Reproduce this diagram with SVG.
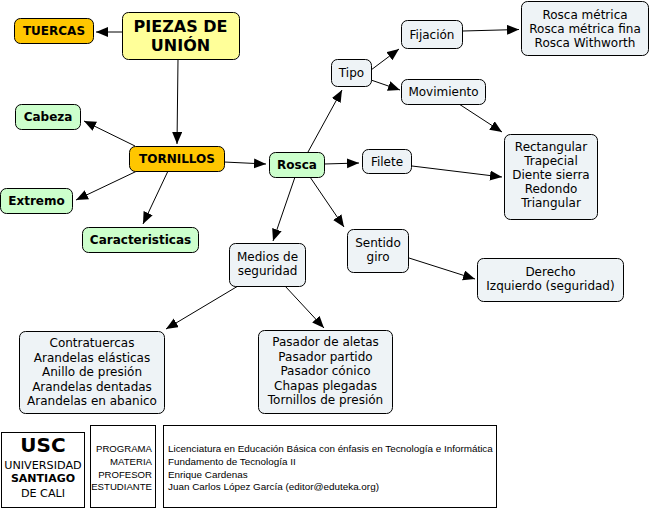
<svg xmlns="http://www.w3.org/2000/svg" width="652" height="509" viewBox="0 0 652 509">
<style>
.n rect{stroke:#000;stroke-width:1}
.o{fill:#FFC600}
.y{fill:#FFFF99}
.g{fill:#CCFFCC}
.p{fill:#EEF3F6}
text{font-family:"DejaVu Sans",Verdana,sans-serif;font-size:12px;fill:#000;text-anchor:middle}
.b{font-weight:bold}
.big{font-size:16px;font-weight:bold}
.c line{stroke:#000;stroke-width:1;marker-end:url(#ah)}
.f rect{fill:#fff;stroke:#000;stroke-width:1}
.ft{font-family:"Liberation Sans",Arial,sans-serif;font-size:9.6px;text-anchor:start}
.fr{font-size:9.9px}
</style>
<defs>
<marker id="ah" markerUnits="userSpaceOnUse" markerWidth="13" markerHeight="11" refX="12" refY="5" orient="auto">
<path d="M0,0 L12,5 L0,10 z" fill="#000"/>
</marker>
</defs>
<rect width="652" height="509" fill="#fff"/>
<g class="c" id="connectors">
<line x1="122" y1="32" x2="96" y2="32"/>
<line x1="178" y1="59" x2="177" y2="144"/>
<line x1="135" y1="146" x2="84" y2="121"/>
<line x1="137" y1="171" x2="76" y2="200"/>
<line x1="168" y1="171" x2="143" y2="224"/>
<line x1="224" y1="162" x2="266" y2="164"/>
<line x1="308" y1="152" x2="342" y2="90"/>
<line x1="371" y1="70" x2="399" y2="49"/>
<line x1="371" y1="80" x2="400" y2="90"/>
<line x1="463" y1="31" x2="519" y2="29.5"/>
<line x1="459" y1="104" x2="502" y2="132"/>
<line x1="324" y1="164" x2="359" y2="163"/>
<line x1="412" y1="166" x2="502" y2="177"/>
<line x1="310" y1="177" x2="344" y2="227"/>
<line x1="295" y1="177" x2="273" y2="241"/>
<line x1="409" y1="258" x2="475" y2="279"/>
<line x1="238" y1="286" x2="166" y2="329"/>
<line x1="285" y1="286" x2="324" y2="328"/>
</g>
<g class="n" id="tuercas"><rect class="o" x="14.5" y="18.5" width="79" height="25" rx="6"/><text class="b" x="54" y="35">TUERCAS</text></g>
<g class="n" id="piezas"><rect class="y" x="122.5" y="12.5" width="117" height="47" rx="6"/><text class="big" x="180.5" y="32">PIEZAS DE</text><text class="big" x="180.5" y="51">UNIÓN</text></g>
<g class="n" id="cabeza"><rect class="g" x="15.5" y="104.5" width="65" height="25" rx="6"/><text class="b" x="48" y="121">Cabeza</text></g>
<g class="n" id="tornillos"><rect class="o" x="129.5" y="146.5" width="95" height="25" rx="6"/><text class="b" x="177" y="163">TORNILLOS</text></g>
<g class="n" id="rosca"><rect class="g" x="269.5" y="152.5" width="55" height="25" rx="6"/><text class="b" x="297" y="169">Rosca</text></g>
<g class="n" id="extremo"><rect class="g" x="0.5" y="188.5" width="72" height="25" rx="6"/><text class="b" x="36.5" y="205">Extremo</text></g>
<g class="n" id="caracteristicas"><rect class="g" x="82.5" y="227.5" width="116" height="25" rx="6"/><text class="b" x="140.5" y="244">Caracteristicas</text></g>
<g class="n" id="tipo"><rect class="p" x="331.5" y="59.5" width="40" height="27" rx="6"/><text x="351.5" y="77">Tipo</text></g>
<g class="n" id="fijacion"><rect class="p" x="401.5" y="20.5" width="61" height="28" rx="6"/><text x="432" y="39">Fijación</text></g>
<g class="n" id="movimiento"><rect class="p" x="401.5" y="79.5" width="84" height="25" rx="6"/><text x="443.5" y="96">Movimiento</text></g>
<g class="n" id="roscametrica"><rect class="p" x="521.5" y="1.5" width="127" height="54" rx="6"/><text x="585" y="19">Rosca métrica</text><text x="585" y="33">Rosca métrica fina</text><text x="585" y="47">Rosca Withworth</text></g>
<g class="n" id="rectangular"><rect class="p" x="504.5" y="134.5" width="93" height="85" rx="6"/><text x="551" y="151">Rectangular</text><text x="551" y="165">Trapecial</text><text x="551" y="179">Diente sierra</text><text x="551" y="193">Redondo</text><text x="551" y="207">Triangular</text></g>
<g class="n" id="filete"><rect class="p" x="362.5" y="149.5" width="49" height="24" rx="6"/><text x="387" y="166">Filete</text></g>
<g class="n" id="sentido"><rect class="p" x="347.5" y="229.5" width="61" height="43" rx="6"/><text x="378" y="247">Sentido</text><text x="378" y="261">giro</text></g>
<g class="n" id="derecho"><rect class="p" x="477.5" y="258.5" width="146" height="43" rx="6"/><text x="550.5" y="276">Derecho</text><text x="550.5" y="290">Izquierdo (seguridad)</text></g>
<g class="n" id="medios"><rect class="p" x="229.5" y="243.5" width="76" height="43" rx="6"/><text x="267.5" y="261">Medios de</text><text x="267.5" y="275">seguridad</text></g>
<g class="n" id="contratuercas"><rect class="p" x="19.5" y="331.5" width="145" height="82" rx="6"/><text x="92" y="347">Contratuercas</text><text x="92" y="361.5">Arandelas elásticas</text><text x="92" y="376">Anillo de presión</text><text x="92" y="390.5">Arandelas dentadas</text><text x="92" y="405">Arandelas en abanico</text></g>
<g class="n" id="pasador"><rect class="p" x="258.5" y="330.5" width="134" height="83" rx="6"/><text x="325.5" y="346">Pasador de aletas</text><text x="325.5" y="360.5">Pasador partido</text><text x="325.5" y="375">Pasador cónico</text><text x="325.5" y="389.5">Chapas plegadas</text><text x="325.5" y="404">Tornillos de presión</text></g>
<g class="f" id="footer">
<rect x="1.5" y="432.5" width="83" height="75"/>
<text class="b" x="43" y="452" style="font-size:20px">USC</text>
<text x="43" y="469" style="font-size:11.2px">UNIVERSIDAD</text>
<text class="b" x="43" y="482" style="font-size:11px">SANTIAGO</text>
<text x="43" y="497" style="font-size:11.2px">DE CALI</text>
<rect x="90.5" y="425.5" width="65" height="82"/>
<text class="ft" x="152" y="452" style="text-anchor:end">PROGRAMA</text>
<text class="ft" x="152" y="465" style="text-anchor:end">MATERIA</text>
<text class="ft" x="152" y="477.5" style="text-anchor:end">PROFESOR</text>
<text class="ft" x="152" y="490" style="text-anchor:end">ESTUDIANTE</text>
<rect x="163.5" y="425.5" width="333" height="82"/>
<text class="ft fr" x="168" y="452">Licenciatura en Educación Básica con énfasis en Tecnología e Informática</text>
<text class="ft fr" x="168" y="465">Fundamento de Tecnología II</text>
<text class="ft fr" x="168" y="477.5">Enrique Cardenas</text>
<text class="ft fr" x="168" y="490">Juan Carlos López García (editor@eduteka.org)</text>
</g>
</svg>
